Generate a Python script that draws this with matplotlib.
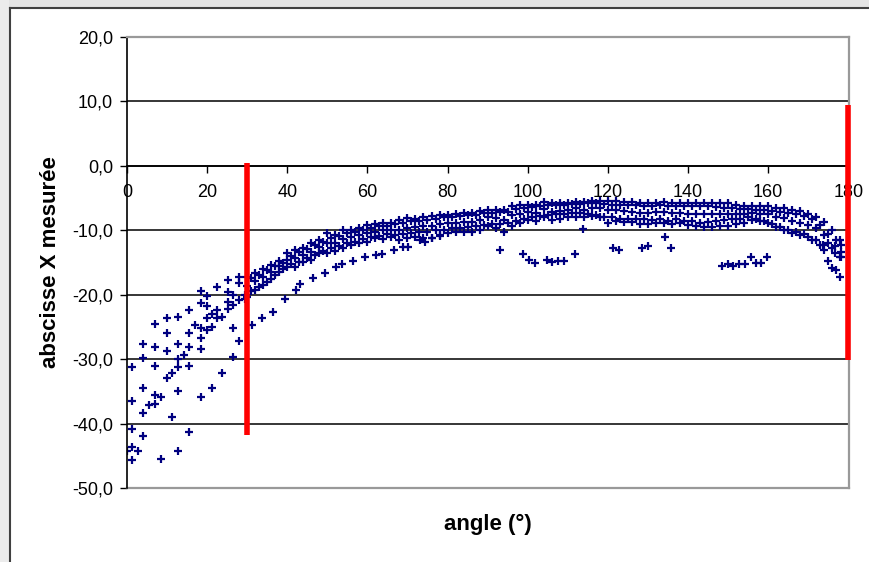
import matplotlib
matplotlib.use("Agg")
import matplotlib.pyplot as plt
from matplotlib.lines import Line2D
from matplotlib.patches import Rectangle
from matplotlib.ticker import FuncFormatter, MultipleLocator

plt.rcParams['font.family'] = ['Liberation Sans', 'DejaVu Sans']

# scattered points at small angles
left_ang = [0.0,
            1.2, 1.2, 1.2, 1.2, 1.2,
            2.7,
            4.0, 4.0, 4.0, 4.0, 4.0,
            5.5,
            7.0, 7.0, 7.0, 7.0, 7.0,
            8.5, 8.5,
            10.0, 10.0, 10.0, 10.0,
            11.2, 11.2,
            12.7, 12.7, 12.7, 12.7, 12.7, 12.7,
            14.2,
            15.5, 15.5, 15.5, 15.5, 15.5,
            17.0,
            18.5, 18.5, 18.5, 18.5, 18.5, 18.5,
            20.0, 20.0, 20.0, 20.0,
            21.2, 21.2, 21.2,
            22.5, 22.5, 22.5,
            23.7, 23.7,
            25.2, 25.2, 25.2, 25.2,
            26.5, 26.5, 26.5, 26.5,
            28.0, 28.0, 28.0, 28.0,
            29.5, 29.5,
            31.2, 33.7, 36.4, 39.4]
left_x = [-44.3,
          -31.2, -36.5, -40.8, -43.6, -45.7,
          -44.3,
          -27.6, -29.8, -34.5, -38.3, -41.9,
          -37.1,
          -24.5, -28.1, -31.1, -35.6, -37.0,
          -35.9, -45.5,
          -23.6, -25.9, -28.7, -32.9,
          -32.1, -39.0,
          -23.4, -27.6, -30.0, -31.2, -34.9, -44.3,
          -29.3,
          -22.4, -25.9, -28.1, -31.1, -41.3,
          -24.7,
          -19.5, -21.3, -25.2, -26.7, -28.4, -35.9,
          -20.2, -21.7, -23.6, -25.5,
          -23.0, -25.0, -34.5,
          -18.8, -22.4, -23.6,
          -23.4, -32.1,
          -17.7, -19.6, -21.1, -22.2,
          -20.0, -21.6, -25.2, -29.7,
          -17.2, -18.2, -20.8, -27.2,
          -20.0, -20.7,
          -24.7, -23.6, -22.7, -20.6]

# main band, even angles 30..178
band_ang_even = list(range(30, 180, 2))
top_even = [-17.2, -16.6, -16.0, -15.4, -14.8, -13.5, -13.0, -12.7, -12.0, -11.5,
            -10.4, -10.8, -9.9, -9.9, -9.6, -9.2, -9.0, -8.8, -8.9, -8.4,
            -8.1, -8.2, -7.9, -7.8, -7.7, -7.6, -7.4, -7.3, -7.3, -7.0,
            -6.8, -6.8, -6.8, -6.3, -6.1, -6.1, -6.0, -5.6, -5.8, -5.8,
            -5.7, -5.6, -5.6, -5.5, -5.4, -5.4, -5.5, -5.6, -5.6, -5.8,
            -5.8, -5.7, -5.6, -5.8, -5.8, -5.8, -5.8, -5.7, -5.7, -5.8,
            -5.8, -6.0, -6.2, -6.3, -6.3, -6.3, -6.5, -6.5, -6.8, -7.0,
            -7.5, -8.0, -8.7, -10.0, -11.5]
mid_even = [-18.6, -17.9, -17.2, -16.5, -15.6, -14.6, -14.3, -13.8, -13.3, -12.6,
            -12.0, -12.0, -11.3, -11.0, -10.8, -10.4, -10.2, -10.0, -10.0, -9.9,
            -9.6, -9.5, -9.4, -9.4, -9.1, -8.9, -8.8, -8.7, -8.7, -8.4,
            -8.0, -8.1, -8.4, -7.7, -7.4, -7.2, -7.3, -6.7, -7.1, -7.0,
            -6.8, -6.6, -6.8, -6.6, -6.6, -6.9, -6.9, -7.0, -7.1, -7.3,
            -7.3, -7.2, -7.2, -7.3, -7.3, -7.4, -7.5, -7.5, -7.5, -7.5,
            -7.4, -7.4, -7.5, -7.3, -7.4, -7.5, -7.9, -8.1, -8.6, -8.8,
            -9.2, -9.7, -10.8, -12.8, -14.1]
bot_even = [-20.3, -19.3, -18.5, -17.5, -16.4, -15.7, -15.7, -14.9, -14.6, -13.5,
            -13.5, -13.2, -12.8, -12.3, -12.0, -11.8, -11.2, -11.4, -11.0, -11.5,
            -11.2, -11.0, -11.2, -11.2, -10.7, -10.4, -10.3, -10.3, -10.2, -10.0,
            -9.3, -9.6, -10.2, -9.3, -8.9, -8.4, -8.6, -7.9, -8.4, -8.2,
            -8.0, -7.9, -8.0, -7.8, -8.0, -8.9, -8.6, -8.7, -8.7, -9.0,
            -9.0, -8.9, -8.9, -9.0, -8.9, -9.2, -9.4, -9.5, -9.5, -9.4,
            -9.3, -9.0, -8.8, -8.4, -8.6, -8.8, -9.5, -9.9, -10.4, -10.7,
            -11.0, -11.5, -13.0, -15.9, -17.2]

# main band, odd angles 31..177
band_ang_odd = list(range(31, 178, 2))
upmid_odd = [-17.4, -16.9, -16.2, -15.6, -15.0, -14.0, -13.4, -12.9, -12.3, -11.8,
             -11.2, -10.9, -10.4, -10.2, -9.9, -9.6, -9.4, -9.3, -9.1, -8.9,
             -8.6, -8.5, -8.4, -8.3, -8.0, -7.9, -7.8, -7.7, -7.6, -7.3,
             -7.3, -7.2, -7.1, -6.7, -6.5, -6.4, -6.2, -6.1, -6.1, -6.0,
             -5.9, -5.9, -5.8, -5.8, -5.9, -6.0, -6.1, -6.1, -6.1, -6.2,
             -6.2, -6.1, -6.2, -6.3, -6.2, -6.3, -6.2, -6.3, -6.4, -6.5,
             -6.5, -6.7, -6.7, -6.8, -6.9, -7.0, -7.2, -7.3, -7.5, -7.8,
             -8.3, -9.2, -10.6, -11.5]
lowmid_odd = [-19.5, -18.8, -18.0, -17.0, -16.0, -15.3, -14.9, -14.3, -13.9, -13.2,
              -12.7, -12.4, -12.0, -11.8, -11.4, -11.0, -10.9, -10.6, -10.8, -10.6,
              -10.4, -10.2, -10.3, -10.0, -9.9, -9.7, -9.6, -9.5, -9.4, -9.2,
              -9.0, -9.1, -8.8, -8.5, -8.3, -8.0, -7.8, -7.6, -7.5, -7.4,
              -7.3, -7.3, -7.5, -7.6, -7.9, -8.0, -8.2, -8.3, -8.2, -8.3,
              -8.4, -8.2, -8.5, -8.3, -8.6, -8.6, -8.8, -8.7, -8.6, -8.4,
              -8.3, -8.2, -8.0, -8.2, -8.6, -9.0, -9.5, -9.9, -10.2, -10.6,
              -11.5, -12.3, -14.8, -16.2]

# lower diagonal row
diag_ang = [42.3, 43.2, 46.4, 49.4, 52.2, 53.7, 56.4, 59.4, 62.2, 63.7, 66.6, 68.9,
            70.1, 73.1, 74.5, 76.1, 78.0]
diag_x = [-19.3, -18.3, -17.4, -16.6, -15.7, -15.2, -14.7, -14.1, -13.9, -13.7, -13.0, -12.6,
          -12.6, -11.5, -11.8, -11.2, -10.9]

# isolated points under the band
out_ang = [93.1, 98.9, 100.4, 101.8, 104.8, 106.1, 107.6, 109.1, 111.8, 113.8,
           121.3, 122.8, 128.6, 130.0, 134.3, 135.8,
           148.5, 150.0, 151.3, 152.8, 154.2, 155.7, 157.0, 158.3, 159.8]
out_x = [-13.0, -13.7, -14.6, -15.1, -14.6, -14.9, -14.8, -14.8, -13.7, -9.8,
         -12.7, -13.0, -12.7, -12.4, -11.0, -12.7,
         -15.5, -15.2, -15.5, -15.2, -15.2, -14.1, -15.0, -15.0, -14.1]

end_ang = [173.7, 175.0, 176.7, 176.7, 178.2, 178.2, 178.2]
end_x = [-12.3, -12.0, -12.5, -13.5, -12.3, -14.1, -13.3]

# red limit lines
limit_ang = [30, 180]
limit_lo = [-41.8, -30.1]
limit_hi = [0.4, 9.5]

fig = plt.figure(figsize=(8.69, 5.62), dpi=100)

# grey screen margin outside the chart frame
fig.add_artist(Rectangle((0, 1 - 8 / 562), 1, 8 / 562, transform=fig.transFigure,
                         color='#e4e4e4', lw=0))
fig.add_artist(Rectangle((0, 0), 9 / 869, 1, transform=fig.transFigure,
                         color='#ececec', lw=0))

ax = fig.add_axes([127 / 869, 1 - 488 / 562, 722 / 869, 451 / 562])

navy = '#000080'
kw = dict(ls='none', marker='+', ms=5.5, mew=1.6, color=navy)
ax.plot(left_ang, left_x, **kw)
ax.plot(band_ang_even, top_even, **kw)
ax.plot(band_ang_even, mid_even, **kw)
ax.plot(band_ang_even, bot_even, **kw)
ax.plot(band_ang_odd, upmid_odd, **kw)
ax.plot(band_ang_odd, lowmid_odd, **kw)
ax.plot(diag_ang, diag_x, **kw)
ax.plot(out_ang, out_x, **kw)
ax.plot(end_ang, end_x, **kw)

for a, lo, hi in zip(limit_ang, limit_lo, limit_hi):
    ax.plot([a, a], [lo, hi], color='#ff0000', lw=4, solid_capstyle='butt',
            clip_on=False, zorder=5)

ax.set_xlim(0, 180.2)
ax.set_ylim(-50, 20)
ax.xaxis.set_major_locator(MultipleLocator(20))
ax.yaxis.set_major_locator(MultipleLocator(10))
ax.yaxis.set_major_formatter(FuncFormatter(lambda v, p: f'{v:.1f}'.replace('.', ',')))
ax.yaxis.grid(True, color='black', lw=1.1)
ax.set_axisbelow(True)

ax.spines['bottom'].set_position(('data', 0))
ax.spines['bottom'].set_color('black')
ax.spines['left'].set_color('black')
for s in ['bottom', 'left']:
    ax.spines[s].set_linewidth(1.2)
for s in ['top', 'right']:
    ax.spines[s].set_color('#999999')
    ax.spines[s].set_linewidth(1.6)
ax.axhline(-50, color='#999999', lw=1.6, clip_on=False)

ax.tick_params(axis='y', direction='out', length=5, width=1, pad=5, labelsize=13)
ax.tick_params(axis='x', direction='out', length=5, width=1, pad=8, labelsize=13)

ax.set_xlabel('angle (°)', fontsize=16, fontweight='bold')
ax.set_ylabel('abscisse X mesurée', fontsize=16, fontweight='bold')
ax.xaxis.set_label_coords(0.5, -0.058)
ax.yaxis.set_label_coords(-0.091, 0.5)

# outer chart frame
fig.add_artist(Line2D([10 / 869, 1], [1 - 8 / 562] * 2, transform=fig.transFigure,
                      color='#404040', lw=1.5))
fig.add_artist(Line2D([10 / 869] * 2, [0, 1 - 8 / 562], transform=fig.transFigure,
                      color='#404040', lw=1.5))

fig.savefig('out.png', dpi=100)
